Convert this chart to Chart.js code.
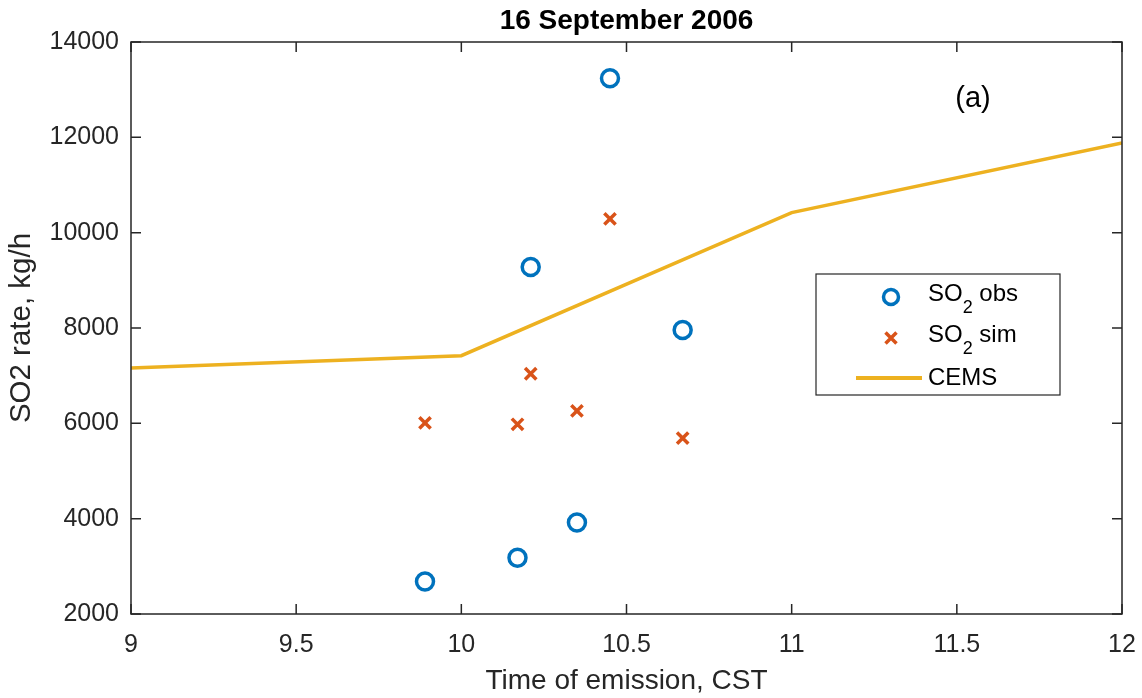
<!DOCTYPE html>
<html>
<head>
<meta charset="utf-8">
<script src="https://cdn.jsdelivr.net/npm/chart.js@4/dist/chart.umd.min.js"></script>
<style>
  html, body { margin: 0; padding: 0; background: #fff; }
  #wrap { width: 1142px; height: 698px; }
</style>
</head>
<body>
<div id="wrap"><canvas id="so2chart" width="1142" height="698"></canvas></div>
<script>
// emission times (CST) for the aircraft passes
const obsTimes = [9.89, 10.17, 10.35, 10.21, 10.45, 10.67];
const obsRates = [2680, 3180, 3920, 9280, 13240, 7960];
const simTimes = [9.89, 10.17, 10.21, 10.35, 10.45, 10.67];
const simRates = [6010, 5980, 7040, 6260, 10290, 5690];
// hourly CEMS values
const cemsTimes = [9, 10, 11, 12];
const cemsRates = [7160, 7420, 10420, 11880];

const xTicks = [9, 9.5, 10, 10.5, 11, 11.5, 12];
const yTicks = [2000, 4000, 6000, 8000, 10000, 12000, 14000];

const BLUE = "#0072BD";
const ORANGE = "#D95319";
const YELLOW = "#EDB120";
const AXIS = "#262626";
const FONT = "'Liberation Sans', Arial, sans-serif";

function pts(xs, ys) {
  return xs.map((x, i) => ({ x: x, y: ys[i] }));
}

// box, inward ticks, title, panel tag and legend
const decorations = {
  id: "decorations",
  afterDraw(chart) {
    const ctx = chart.ctx;
    const a = chart.chartArea;
    const sx = chart.scales.x;
    const sy = chart.scales.y;
    ctx.save();
    ctx.strokeStyle = AXIS;
    ctx.lineWidth = 1.5;
    ctx.strokeRect(a.left, a.top, a.right - a.left, a.bottom - a.top);
    const tl = 10;
    ctx.beginPath();
    xTicks.forEach(v => {
      const px = sx.getPixelForValue(v);
      ctx.moveTo(px, a.bottom); ctx.lineTo(px, a.bottom - tl);
      ctx.moveTo(px, a.top); ctx.lineTo(px, a.top + tl);
    });
    yTicks.forEach(v => {
      const py = sy.getPixelForValue(v);
      ctx.moveTo(a.left, py); ctx.lineTo(a.left + tl, py);
      ctx.moveTo(a.right, py); ctx.lineTo(a.right - tl, py);
    });
    ctx.stroke();

    ctx.fillStyle = "#000";
    ctx.font = "bold 28px " + FONT;
    ctx.textAlign = "center";
    ctx.textBaseline = "middle";
    ctx.fillText("16 September 2006", (a.left + a.right) / 2, 21);

    ctx.font = "29px " + FONT;
    ctx.fillText("(a)", 973, 99);

    // legend
    const lx = 816, ly = 274, lw = 244, lh = 121;
    ctx.fillStyle = "#fff";
    ctx.fillRect(lx, ly, lw, lh);
    ctx.strokeStyle = AXIS;
    ctx.lineWidth = 1.2;
    ctx.strokeRect(lx, ly, lw, lh);

    const mx = 891, tx = 928;
    const rows = [297, 338, 378];
    ctx.strokeStyle = BLUE;
    ctx.lineWidth = 3.5;
    ctx.beginPath();
    ctx.arc(mx, rows[0], 7.5, 0, Math.PI * 2);
    ctx.stroke();
    ctx.strokeStyle = ORANGE;
    ctx.beginPath();
    ctx.moveTo(mx - 5.5, rows[1] - 5.5); ctx.lineTo(mx + 5.5, rows[1] + 5.5);
    ctx.moveTo(mx + 5.5, rows[1] - 5.5); ctx.lineTo(mx - 5.5, rows[1] + 5.5);
    ctx.stroke();
    ctx.strokeStyle = YELLOW;
    ctx.lineWidth = 4;
    ctx.beginPath();
    ctx.moveTo(856, rows[2]); ctx.lineTo(922, rows[2]);
    ctx.stroke();

    ctx.fillStyle = "#000";
    ctx.textAlign = "left";
    ctx.textBaseline = "middle";
    const labels = [["SO", "2", " obs"], ["SO", "2", " sim"]];
    labels.forEach((l, i) => {
      const y = rows[i];
      ctx.font = "24px " + FONT;
      ctx.fillText(l[0], tx, y - 3);
      let w = ctx.measureText(l[0]).width;
      ctx.font = "18px " + FONT;
      ctx.fillText(l[1], tx + w, y + 11);
      w += ctx.measureText(l[1]).width;
      ctx.font = "24px " + FONT;
      ctx.fillText(l[2], tx + w, y - 3);
    });
    ctx.fillText("CEMS", tx, rows[2]);
    ctx.restore();
  }
};

const chart = new Chart(document.getElementById("so2chart").getContext("2d"), {
  type: "scatter",
  data: {
    datasets: [
      {
        label: "SO2 obs",
        data: pts(obsTimes, obsRates),
        pointStyle: "circle",
        pointRadius: 8.5,
        pointBorderWidth: 3.5,
        borderColor: BLUE,
        backgroundColor: "rgba(0,0,0,0)",
      },
      {
        label: "SO2 sim",
        data: pts(simTimes, simRates),
        pointStyle: "crossRot",
        pointRadius: 8,
        pointBorderWidth: 3.5,
        borderColor: ORANGE,
        backgroundColor: ORANGE,
      },
      {
        type: "line",
        label: "CEMS",
        data: pts(cemsTimes, cemsRates),
        borderColor: YELLOW,
        borderWidth: 3.5,
        pointRadius: 0,
        fill: false,
        tension: 0,
      },
    ],
  },
  options: {
    responsive: false,
    animation: false,
    layout: { padding: { top: 42, right: 20, bottom: 0, left: 0 } },
    plugins: {
      legend: { display: false },
      tooltip: { enabled: false },
    },
    scales: {
      x: {
        type: "linear",
        min: 9,
        max: 12,
        afterBuildTicks: s => { s.ticks = xTicks.map(v => ({ value: v })); },
        afterFit: s => { s.height = 84; s.paddingLeft = 0; s.paddingRight = 0; },
        grid: { display: false, drawTicks: false },
        border: { display: false },
        ticks: {
          padding: 16,
          color: AXIS,
          maxRotation: 0,
          font: { family: FONT, size: 25 },
          callback: v => String(v),
        },
        title: {
          display: true,
          text: "Time of emission, CST",
          color: AXIS,
          font: { family: FONT, size: 28 },
          padding: { top: 0, bottom: 0 },
        },
      },
      y: {
        min: 2000,
        max: 14000,
        afterBuildTicks: s => { s.ticks = yTicks.map(v => ({ value: v })); },
        afterFit: s => { s.width = 131; s.paddingTop = 0; s.paddingBottom = 0; },
        grid: { display: false, drawTicks: false },
        border: { display: false },
        ticks: {
          padding: 12,
          color: AXIS,
          font: { family: FONT, size: 25 },
          callback: v => String(v),
        },
        title: {
          display: true,
          text: "SO2 rate, kg/h",
          color: AXIS,
          font: { family: FONT, size: 29.5 },
          padding: { top: 4, bottom: 0 },
        },
      },
    },
  },
  plugins: [decorations],
});
</script>
</body>
</html>
